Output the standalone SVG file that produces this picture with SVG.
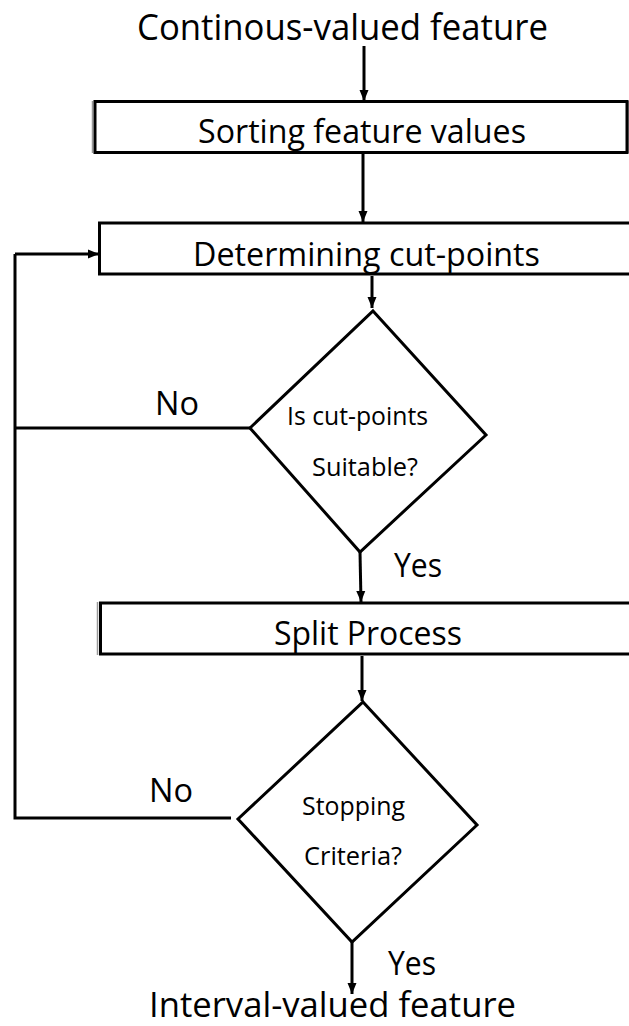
<svg xmlns="http://www.w3.org/2000/svg" width="629" height="1026" viewBox="0 0 629 1026">
  <defs>
    <marker id="arrow" markerUnits="userSpaceOnUse" markerWidth="12" markerHeight="12" viewBox="0 0 12 12" refX="11" refY="6" orient="auto">
      <path d="M0,1.5 L11,6 L0,10.5 Z" fill="#000"/>
    </marker>
    <style>
      .line { fill: none; stroke: #000; stroke-width: 3; }
      .arr { fill: none; stroke: #000; stroke-width: 3; marker-end: url(#arrow); }
      .box { fill: #fff; stroke: #000; stroke-width: 3; }
      .edge { fill: none; stroke: #999; stroke-width: 1.5; }
      .dia { fill: #fff; stroke: #000; stroke-width: 3; stroke-linejoin: miter; }
      text { font-family: "Open Sans", "Liberation Sans", sans-serif; fill: #000; }
      .big { font-size: 36px; }
      .end { font-size: 34px; }
      .mid { font-size: 33px; }
      .lbl { font-size: 32px; }
      .small { font-size: 25px; }
    </style>
  </defs>

  <rect width="629" height="1026" fill="#fff"/>

  <!-- connectors -->
  <g id="connectors">
    <path class="arr" d="M364,46 V101"/>
    <path class="arr" d="M363,153 V222"/>
    <path class="arr" d="M372,276 V308"/>
    <path class="line" d="M250,428 H15"/>
    <path class="line" d="M231,818 H15 V254"/>
    <path class="arr" d="M15,254 H99"/>
    <path class="arr" d="M360,552 L361,602"/>
    <path class="arr" d="M362,656 V701"/>
    <path class="arr" d="M352,942 V994"/>
  </g>

  <!-- start terminal -->
  <g id="start">
    <text class="big" x="137" y="40" textLength="411" lengthAdjust="spacingAndGlyphs">Continous-valued feature</text>
  </g>

  <!-- sorting step -->
  <g id="sort">
    <line class="edge" x1="92.5" y1="101" x2="92.5" y2="153"/>
    <line class="edge" x1="628.5" y1="101" x2="628.5" y2="153"/>
    <rect class="box" x="95" y="101.5" width="532" height="51"/>
    <text class="mid" x="198" y="143" textLength="328" lengthAdjust="spacingAndGlyphs">Sorting feature values</text>
  </g>

  <!-- cut-point step -->
  <g id="cutpoints">
    <rect class="box" x="99.5" y="223" width="540" height="51"/>
    <text class="mid" x="193" y="266" textLength="347" lengthAdjust="spacingAndGlyphs">Determining cut-points</text>
  </g>

  <!-- first decision -->
  <g id="suitable">
    <polygon class="dia" points="373,311 486,435 360,552 250,428"/>
    <text class="small" x="287" y="425" textLength="141" lengthAdjust="spacingAndGlyphs">Is cut-points</text>
    <text class="small" x="312" y="476" textLength="106" lengthAdjust="spacingAndGlyphs">Suitable?</text>
  </g>
  <text class="lbl" x="155" y="415" textLength="44" lengthAdjust="spacingAndGlyphs">No</text>
  <text class="lbl" x="394" y="577" textLength="48" lengthAdjust="spacingAndGlyphs">Yes</text>

  <!-- split step -->
  <g id="split">
    <line class="edge" x1="97.5" y1="602" x2="97.5" y2="655"/>
    <rect class="box" x="100.5" y="603" width="540" height="51"/>
    <text class="mid" x="274" y="645" textLength="188" lengthAdjust="spacingAndGlyphs">Split Process</text>
  </g>

  <!-- second decision -->
  <g id="stopping">
    <polygon class="dia" points="363,702 477,825 352,942 238,819"/>
    <text class="small" x="302" y="815" textLength="103" lengthAdjust="spacingAndGlyphs">Stopping</text>
    <text class="small" x="304" y="865" textLength="98" lengthAdjust="spacingAndGlyphs">Criteria?</text>
  </g>
  <text class="lbl" x="149" y="802" textLength="44" lengthAdjust="spacingAndGlyphs">No</text>
  <text class="lbl" x="388" y="975" textLength="48" lengthAdjust="spacingAndGlyphs">Yes</text>

  <!-- end terminal -->
  <g id="end">
    <text class="end" x="149" y="1017" textLength="367" lengthAdjust="spacingAndGlyphs">Interval-valued feature</text>
  </g>
</svg>
